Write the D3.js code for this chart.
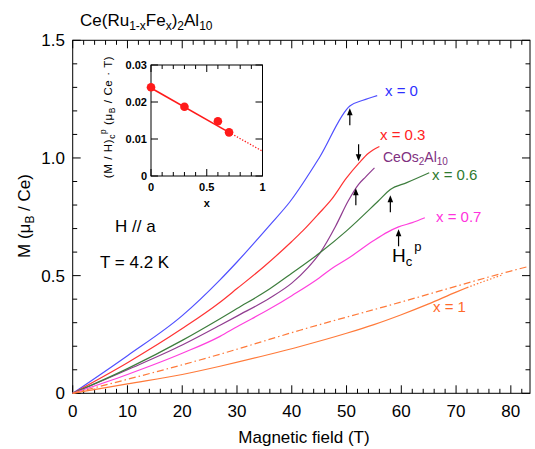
<!DOCTYPE html>
<html><head><meta charset="utf-8">
<script src="https://cdn.jsdelivr.net/npm/d3@7/dist/d3.min.js"></script>
<style>body{margin:0;background:#fff}svg{display:block;font-family:"Liberation Sans",Arial,sans-serif}</style>
</head><body>
<svg id="c" width="535" height="449"></svg>
<script>
// ---- data ----
const fieldX0 = [0,10,20,26.9,30,36,39.7,45,50.6,53,55.6];
const magX0   = [0,0.16,0.33,0.482,0.558,0.715,0.815,1.0,1.221,1.245,1.265];
const fieldX03 = [0,10,20,26.9,30,35,40,42,45,47.3,50,52.3,54,56];
const magX03   = [0,0.13,0.275,0.387,0.445,0.54,0.645,0.69,0.765,0.825,0.915,0.979,1.02,1.049];
const fieldOs = [0,10,20,26.9,30,36,40,43,45.2,48,50.3,52.2,53.5,55.1];
const magOs   = [0,0.1,0.205,0.289,0.328,0.405,0.468,0.535,0.598,0.71,0.817,0.888,0.92,0.958];
const fieldX06 = [0,10,20,26.9,30,36,40,45.2,50,55.8,58,61,65.1];
const magX06   = [0,0.105,0.225,0.317,0.36,0.444,0.51,0.598,0.69,0.817,0.866,0.895,0.937];
const fieldX07 = [0,10,20,26.9,30,36,40,45,47,50.6,54.9,57.5,59.5,62,64.3];
const magX07   = [0,0.08,0.17,0.242,0.283,0.359,0.415,0.49,0.525,0.578,0.648,0.685,0.707,0.725,0.746];
const fieldX1 = [0,5,10,20,26.9,36,41.5,50,55,60,65,70,72];
const magX1   = [0,0.02,0.04,0.08,0.115,0.166,0.199,0.255,0.292,0.334,0.38,0.43,0.449];
const fieldX1dot = [72,75,78.6];
const magX1dot   = [0.449,0.475,0.504];
const fieldX1lin = [0,26.9,41.5,60,78,83.2];
const magX1lin   = [0,0.166,0.268,0.388,0.507,0.539];
// arrows: field, M at tip, direction
const arrowField = [50.6,52.2,51.7,58,59.5];
const arrowTipM  = [1.211,0.986,0.871,0.842,0.697];
const arrowDir   = ["up","down","up","up","up"];
// inset
const insetX = [0,0.3,0.6,0.7];
const insetY = [0.024,0.0187,0.0148,0.0118];
const fitSolidX = [0,0.7], fitSolidY = [0.0238,0.0118];
const fitDotX = [0.7,1], fitDotY = [0.0118,0.0067];
const xTicks = [0,10,20,30,40,50,60,70,80];
const yTicks = [0,0.5,1.0,1.5];
const yTickLabels = ["0","0.5","1.0","1.5"];
const insetXTicks = [0,0.5,1], insetXTickLabels=["0","0.5","1"];
const insetYTicks = [0,0.01,0.02,0.03], insetYTickLabels=["0","0.01","0.02","0.03"];

const svg = d3.select("#c");
const x = d3.scaleLinear().domain([0,83.5]).range([72.7,530]);
const y = d3.scaleLinear().domain([0,1.5]).range([393.3,40.3]);

// frame
svg.append("rect").attr("x",x(0)).attr("y",y(1.5)).attr("width",x(83.5)-x(0)).attr("height",y(0)-y(1.5))
  .attr("fill","none").attr("stroke","#000").attr("stroke-width",1);

// ticks
const g = svg.append("g").attr("stroke","#000").attr("stroke-width",1);
d3.range(0,84,2).forEach(v=>{
  const L = v%10===0?8:4.5;
  g.append("line").attr("x1",x(v)).attr("x2",x(v)).attr("y1",y(0)).attr("y2",y(0)-L);
  g.append("line").attr("x1",x(v)).attr("x2",x(v)).attr("y1",y(1.5)).attr("y2",y(1.5)+L);
});
d3.range(0,16,1).forEach(i=>{
  const v=i/10, L = i%5===0?8:4.5;
  g.append("line").attr("x1",x(0)).attr("x2",x(0)+L).attr("y1",y(v)).attr("y2",y(v));
  g.append("line").attr("x1",x(83.5)).attr("x2",x(83.5)-L).attr("y1",y(v)).attr("y2",y(v));
});
xTicks.forEach(v=>svg.append("text").attr("x",x(v)).attr("y",417).attr("text-anchor","middle")
  .attr("font-size",17).text(v));
yTicks.forEach((v,i)=>svg.append("text").attr("x",65).attr("y",y(v)+6).attr("text-anchor","end")
  .attr("font-size",17).text(yTickLabels[i]));

svg.append("text").attr("x",304).attr("y",443).attr("text-anchor","middle").attr("font-size",17).text("Magnetic field (T)");
const yl = svg.append("text").attr("transform","translate(30,216) rotate(-90)").attr("text-anchor","middle").attr("font-size",17);
yl.append("tspan").text("M (μ");
yl.append("tspan").attr("font-size",12).attr("dy",4).text("B");
yl.append("tspan").attr("dy",-4).text(" / Ce)");

// title
const tt = svg.append("text").attr("x",80).attr("y",26).attr("font-size",17);
tt.append("tspan").text("Ce(Ru");
tt.append("tspan").attr("font-size",12).attr("dy",4).text("1-x");
tt.append("tspan").attr("dy",-4).text("Fe");
tt.append("tspan").attr("font-size",12).attr("dy",4).text("x");
tt.append("tspan").attr("dy",-4).text(")");
tt.append("tspan").attr("font-size",12).attr("dy",4).text("2");
tt.append("tspan").attr("dy",-4).text("Al");
tt.append("tspan").attr("font-size",12).attr("dy",4).text("10");

svg.append("text").attr("x",115).attr("y",232).attr("font-size",17).text("H // a");
svg.append("text").attr("x",100).attr("y",268).attr("font-size",17).text("T = 4.2 K");

// curves
const line = d3.line().x(d=>x(d[0])).y(d=>y(d[1])).curve(d3.curveMonotoneX);
function curve(fx,my,color,dash){
  svg.append("path").attr("d",line(d3.zip(fx,my))).attr("fill","none").attr("stroke",color)
    .attr("stroke-width",1.2).attr("stroke-dasharray",dash||null);
}
curve(fieldX0,magX0,"#4f4fff");
curve(fieldX03,magX03,"#ff3333");
curve(fieldOs,magOs,"#903c90");
curve(fieldX06,magX06,"#3d7d3d");
curve(fieldX07,magX07,"#ff40dd");
curve(fieldX1,magX1,"#ff7a3a");
curve(fieldX1dot,magX1dot,"#ff7a3a","1.5,2");
curve(fieldX1lin,magX1lin,"#ff7a3a","7,3,1.5,3");

// arrows
arrowField.forEach((f,i)=>{
  const tx=x(f), ty=y(arrowTipM[i]), s = arrowDir[i]==="up"?1:-1;
  svg.append("line").attr("x1",tx).attr("x2",tx).attr("y1",ty+s*5).attr("y2",ty+s*17).attr("stroke","#000").attr("stroke-width",1.2);
  svg.append("path").attr("d",`M${tx},${ty} L${tx-2.8},${ty+s*7} L${tx+2.8},${ty+s*7} Z`).attr("fill","#000");
});

// labels
function lab(t,xx,yy,c,fs){return svg.append("text").attr("x",xx).attr("y",yy).attr("fill",c).attr("font-size",fs||15).text(t);}
lab("x = 0",385,96,"#2f2fff");
lab("x = 0.3",380,140,"#ff2222");
const os = svg.append("text").attr("x",383).attr("y",162).attr("fill","#80307f").attr("font-size",14);
os.append("tspan").text("CeOs");
os.append("tspan").attr("font-size",10).attr("dy",3).text("2");
os.append("tspan").attr("dy",-3).text("Al");
os.append("tspan").attr("font-size",10).attr("dy",3).text("10");
lab("x = 0.6",432,180,"#2f7a2f");
lab("x = 0.7",436,222,"#ff33dd");
lab("x = 1",433,312,"#ff6a2a");
const hc = svg.append("text").attr("x",392).attr("y",262).attr("font-size",19);
hc.append("tspan").text("H");
hc.append("tspan").attr("font-size",13).attr("dy",4).text("c");
hc.append("tspan").attr("font-size",13).attr("dy",-15).attr("dx",2).text("p");

// inset
const ix = d3.scaleLinear().domain([0,1]).range([151,262.5]);
const iy = d3.scaleLinear().domain([0,0.03]).range([176,65]);
svg.append("rect").attr("x",ix(0)).attr("y",iy(0.03)).attr("width",ix(1)-ix(0)).attr("height",iy(0)-iy(0.03))
  .attr("fill","#fff").attr("stroke","#000").attr("stroke-width",1);
const ig = svg.append("g").attr("stroke","#000").attr("stroke-width",1);
d3.range(0,11).forEach(i=>{
  const v=i/10, L=i%5===0?7:4;
  ig.append("line").attr("x1",ix(v)).attr("x2",ix(v)).attr("y1",iy(0)).attr("y2",iy(0)-L);
  ig.append("line").attr("x1",ix(v)).attr("x2",ix(v)).attr("y1",iy(0.03)).attr("y2",iy(0.03)+L);
});
insetYTicks.forEach(v=>{
  ig.append("line").attr("x1",ix(0)).attr("x2",ix(0)+7).attr("y1",iy(v)).attr("y2",iy(v));
  ig.append("line").attr("x1",ix(1)).attr("x2",ix(1)-7).attr("y1",iy(v)).attr("y2",iy(v));
});
insetXTicks.forEach((v,i)=>svg.append("text").attr("x",ix(v)).attr("y",191).attr("text-anchor","middle")
  .attr("font-size",11).attr("font-weight","bold").text(insetXTickLabels[i]));
insetYTicks.forEach((v,i)=>svg.append("text").attr("x",147).attr("y",iy(v)+4).attr("text-anchor","end")
  .attr("font-size",11).attr("font-weight","bold").text(insetYTickLabels[i]));
svg.append("text").attr("x",ix(0.5)).attr("y",207).attr("text-anchor","middle").attr("font-size",11).attr("font-weight","bold").text("x");
const il = svg.append("text").attr("transform","translate(112,117) rotate(-90)").attr("text-anchor","middle").attr("font-size",11.5).attr("letter-spacing",0.6);
il.append("tspan").text("(M / H)");
il.append("tspan").attr("font-size",8.5).attr("dy",3).text("c");
il.append("tspan").attr("font-size",8.5).attr("dy",-9).text("p");
il.append("tspan").attr("dy",6).text(" (μ");
il.append("tspan").attr("font-size",8.5).attr("dy",3).text("B");
il.append("tspan").attr("dy",-3).text(" / Ce · T)");
const iline = d3.line().x(d=>ix(d[0])).y(d=>iy(d[1]));
svg.append("path").attr("d",iline(d3.zip(fitSolidX,fitSolidY))).attr("stroke","#ff1a1a").attr("stroke-width",1.6).attr("fill","none");
svg.append("path").attr("d",iline(d3.zip(fitDotX,fitDotY))).attr("stroke","#ff1a1a").attr("stroke-width",1.3).attr("stroke-dasharray","1.3,1.7").attr("fill","none");
insetX.forEach((v,i)=>svg.append("circle").attr("cx",ix(v)).attr("cy",iy(insetY[i])).attr("r",4.3).attr("fill","#ff1a1a"));
</script>
</body></html>
